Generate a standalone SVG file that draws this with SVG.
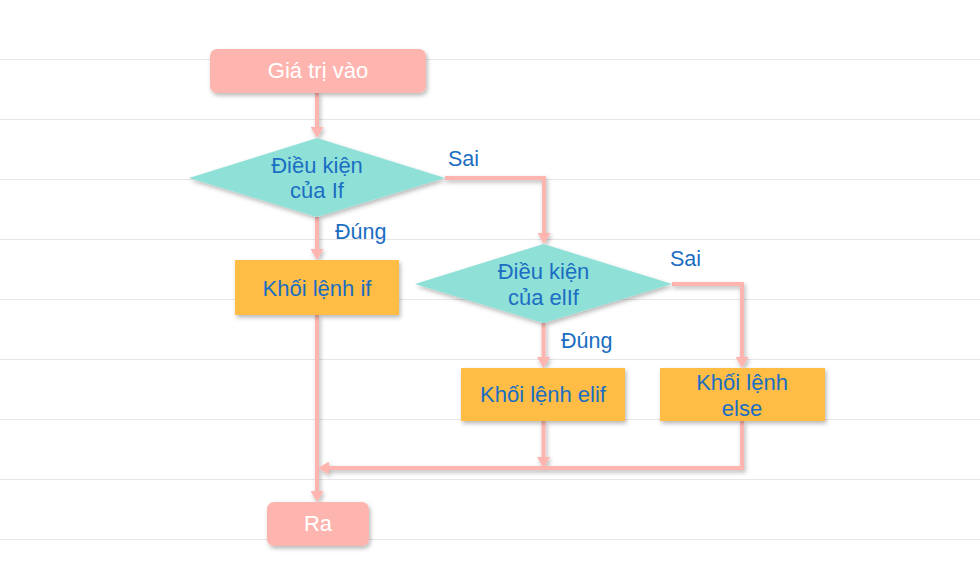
<svg xmlns="http://www.w3.org/2000/svg" width="980" height="572" viewBox="0 0 980 572">
<defs>
<style>
.grid{stroke:#e6e6e6;stroke-width:1}
.conn{fill:none;stroke:#FFB5AF;stroke-width:4;marker-end:url(#ah)}
.term{fill:#FFB5AF}
.dec{fill:#8FE1D8}
.proc{fill:#FFBD45}
.tw{font-family:"Liberation Sans",Arial,sans-serif;font-size:22px;fill:#ffffff;text-anchor:middle}
.tb{font-family:"Liberation Sans",Arial,sans-serif;font-size:22px;fill:#1B6EC2;text-anchor:middle}
.lb{font-family:"Liberation Sans",Arial,sans-serif;font-size:21.5px;fill:#1B6EC2}
</style>
<filter id="sh" x="-20%" y="-20%" width="140%" height="160%">
<feDropShadow dx="1.5" dy="2.5" stdDeviation="2" flood-color="#000" flood-opacity="0.28"/>
</filter>
<marker id="ah" markerUnits="userSpaceOnUse" markerWidth="13" markerHeight="13" refX="2" refY="6.5" orient="auto">
<path d="M0,0 L11,6.5 L0,13 z" fill="#FFB5AF"/>
</marker>
</defs>
<rect width="980" height="572" fill="#ffffff"/>
<g id="grid">
<line class="grid" x1="0" y1="59.5" x2="980" y2="59.5"/>
<line class="grid" x1="0" y1="119.5" x2="980" y2="119.5"/>
<line class="grid" x1="0" y1="179.5" x2="980" y2="179.5"/>
<line class="grid" x1="0" y1="239.5" x2="980" y2="239.5"/>
<line class="grid" x1="0" y1="299.5" x2="980" y2="299.5"/>
<line class="grid" x1="0" y1="359.5" x2="980" y2="359.5"/>
<line class="grid" x1="0" y1="419.5" x2="980" y2="419.5"/>
<line class="grid" x1="0" y1="479.5" x2="980" y2="479.5"/>
<line class="grid" x1="0" y1="539.5" x2="980" y2="539.5"/>
</g>
<g id="connectors" filter="url(#sh)">
<path class="conn" d="M317 93 V129"/>
<path class="conn" d="M445 178 H544 V235"/>
<path class="conn" d="M317 217 V251"/>
<path class="conn" d="M672 284 H742 V359"/>
<path class="conn" d="M543.5 323 V359"/>
<path class="conn" d="M317 315 V493"/>
<path class="conn" d="M543.5 421 V459"/>
<path class="conn" d="M742 421 V468 H327"/>
</g>
<g id="start">
<rect class="term" x="210" y="49" width="216" height="44" rx="7" filter="url(#sh)"/>
<text class="tw" x="318" y="78">Giá trị vào</text>
</g>
<g id="cond-if">
<polygon class="dec" points="317,138 445,178 317,217 189,178" filter="url(#sh)"/>
<text class="tb" x="317" y="173">Điều kiện</text>
<text class="tb" x="317" y="198">của If</text>
</g>
<g id="block-if">
<rect class="proc" x="235" y="260" width="164" height="55" filter="url(#sh)"/>
<text class="tb" x="317" y="296">Khối lệnh if</text>
</g>
<g id="cond-elif">
<polygon class="dec" points="543.5,244 672,284 543.5,323 415,284" filter="url(#sh)"/>
<text class="tb" x="543.5" y="279">Điều kiện</text>
<text class="tb" x="543.5" y="305">của elIf</text>
</g>
<g id="block-elif">
<rect class="proc" x="461" y="368" width="164" height="53" filter="url(#sh)"/>
<text class="tb" x="543" y="402">Khối lệnh elif</text>
</g>
<g id="block-else">
<rect class="proc" x="660" y="368" width="165" height="53" filter="url(#sh)"/>
<text class="tb" x="742" y="390">Khối lệnh</text>
<text class="tb" x="742" y="416">else</text>
</g>
<g id="end">
<rect class="term" x="267" y="502" width="102" height="44" rx="7" filter="url(#sh)"/>
<text class="tw" x="318" y="531">Ra</text>
</g>
<g id="labels">
<text class="lb" x="448" y="166">Sai</text>
<text class="lb" x="335" y="239">Đúng</text>
<text class="lb" x="670" y="266">Sai</text>
<text class="lb" x="561" y="348">Đúng</text>
</g>
</svg>
